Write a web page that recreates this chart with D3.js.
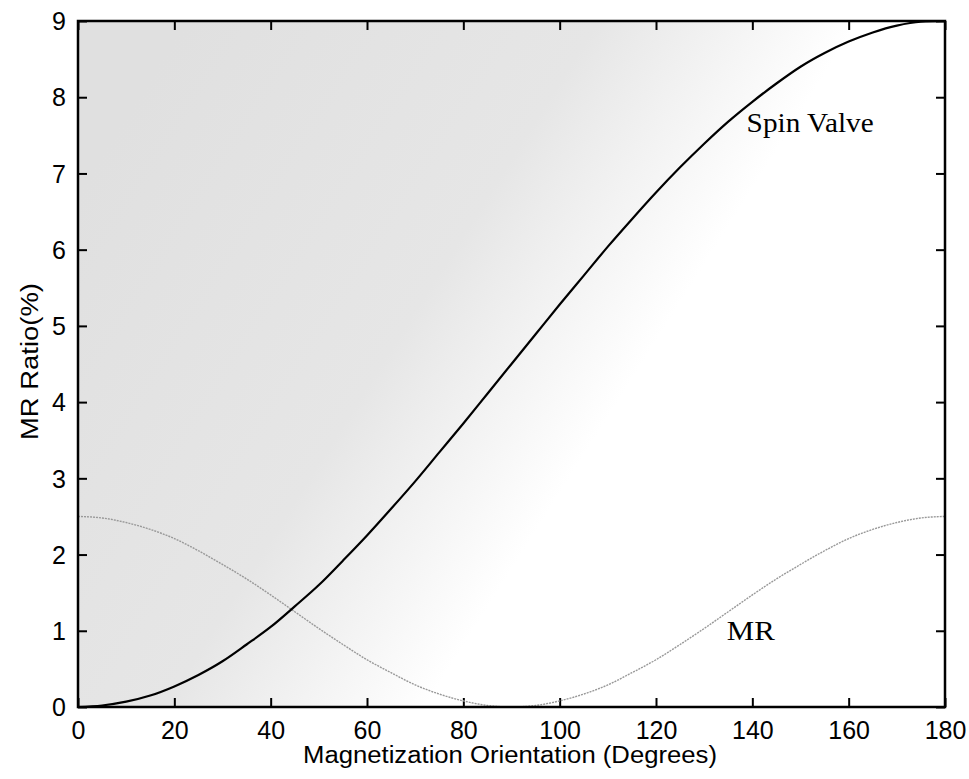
<!DOCTYPE html>
<html><head><meta charset="utf-8">
<script src="https://cdn.jsdelivr.net/npm/d3@7"></script>
<style>body{margin:0;background:#fff}</style>
</head><body>
<svg id="chart" width="969" height="779"></svg>
<script>
const angles = [0,5,10,15,20,25,30,35,40,45,50,55,60,65,70,75,80,85,90,95,100,105,110,115,120,125,130,135,140,145,150,155,160,165,170,175,180];
const spinValve = [0.0,0.02,0.07,0.15,0.27,0.42,0.6,0.82,1.05,1.32,1.6,1.92,2.25,2.6,2.96,3.34,3.72,4.11,4.5,4.89,5.28,5.66,6.04,6.4,6.75,7.08,7.39,7.68,7.94,8.18,8.4,8.58,8.73,8.85,8.94,8.99,9.0];
const mr = [2.5,2.48,2.42,2.33,2.21,2.05,1.87,1.68,1.47,1.25,1.03,0.82,0.62,0.45,0.29,0.17,0.08,0.02,0.0,0.02,0.08,0.17,0.29,0.45,0.62,0.82,1.03,1.25,1.47,1.68,1.87,2.05,2.21,2.33,2.42,2.48,2.5];
const xTicks = [0,20,40,60,80,100,120,140,160,180];
const yTicks = [0,1,2,3,4,5,6,7,8,9];
const xTitle = "Magnetization Orientation (Degrees)";
const yTitle = "MR Ratio(%)";
const labels = [{text:"Spin Valve", x:152, y:7.54, w:127},{text:"MR", x:139.7, y:0.88, w:48}];

const svg = d3.select("#chart");
const L=78, R=945, T=21, B=707;
const x = d3.scaleLinear().domain([0,180]).range([L,R]);
const y = d3.scaleLinear().domain([0,9]).range([B,T]);

const defs = svg.append("defs");
const g = defs.append("linearGradient").attr("id","bg").attr("x1","0").attr("y1","0.25").attr("x2","1").attr("y2","0.75");
g.append("stop").attr("offset","0").attr("stop-color","#e0e0e0");
g.append("stop").attr("offset","0.38").attr("stop-color","#e6e6e6");
g.append("stop").attr("offset","0.62").attr("stop-color","#ffffff");
g.append("stop").attr("offset","1").attr("stop-color","#ffffff");
svg.append("rect").attr("x",L).attr("y",T).attr("width",R-L).attr("height",B-T).attr("fill","url(#bg)");

const font = "'Liberation Sans', Arial, sans-serif";
const axB = svg.append("g").attr("transform",`translate(0,${B})`).call(d3.axisBottom(x).tickValues(xTicks).tickSizeInner(-9).tickSizeOuter(0).tickPadding(14));
const axT = svg.append("g").attr("transform",`translate(0,${T})`).call(d3.axisTop(x).tickValues(xTicks).tickSizeInner(-9).tickSizeOuter(0).tickFormat(""));
const axL = svg.append("g").attr("transform",`translate(${L},0)`).call(d3.axisLeft(y).tickValues(yTicks).tickSizeInner(-9).tickSizeOuter(0).tickPadding(12));
const axR = svg.append("g").attr("transform",`translate(${R},0)`).call(d3.axisRight(y).tickValues(yTicks).tickSizeInner(-9).tickSizeOuter(0).tickFormat(""));
[axB,axT,axL,axR].forEach(a=>{
  a.select(".domain").remove();
  a.selectAll(".tick line").attr("stroke","#000").attr("stroke-width",2);
  a.selectAll("text").attr("font-family",font).attr("font-size",25).attr("fill","#000");
});
axB.selectAll("text").attr("dy","0.71em");
axL.selectAll("text").attr("dy","0.35em");

const line = d3.line().x((d,i)=>x(angles[i])).y(d=>y(d)).curve(d3.curveMonotoneX);
svg.append("path").datum(mr).attr("d",line).attr("fill","none").attr("stroke","#999").attr("stroke-width",1.4).attr("stroke-dasharray","2,1");
svg.append("path").datum(spinValve).attr("d",line).attr("fill","none").attr("stroke","#000").attr("stroke-width",2.2);

svg.append("rect").attr("x",L).attr("y",T).attr("width",R-L).attr("height",B-T).attr("fill","none").attr("stroke","#000").attr("stroke-width",2.5);

svg.selectAll("text.lbl").data(labels).enter().append("text").attr("class","lbl")
  .attr("x",d=>x(d.x)-d.w/2).attr("y",d=>y(d.y))
  .attr("textLength",d=>d.w).attr("lengthAdjust","spacingAndGlyphs")
  .attr("font-family","'Liberation Serif', 'Times New Roman', serif").attr("font-size",28).attr("fill","#000")
  .text(d=>d.text);

svg.append("text").attr("x",303).attr("y",763).attr("textLength",414).attr("lengthAdjust","spacingAndGlyphs")
  .attr("font-family",font).attr("font-size",23).text(xTitle);
svg.append("text").attr("transform",`translate(38,440) rotate(-90)`).attr("textLength",157).attr("lengthAdjust","spacingAndGlyphs")
  .attr("font-family",font).attr("font-size",23).text(yTitle);
</script>
</body></html>
